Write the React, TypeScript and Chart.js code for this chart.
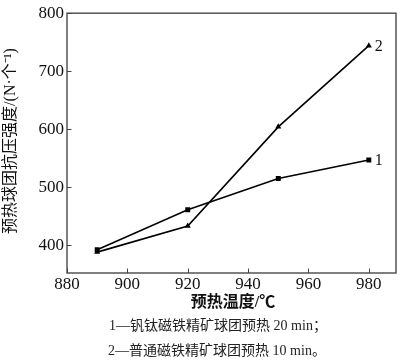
import React, { useEffect, useRef } from "react";
import { Chart, registerables } from "chart.js";

Chart.register(...registerables);

const temperatures = [890, 920, 950, 980];
const series1Values = [392, 461, 515, 547];
const series2Values = [388, 433, 604, 744];
const series1Label = "1";
const series2Label = "2";
const xTicks = [880, 900, 920, 940, 960, 980];
const yTicks = [400, 500, 600, 700, 800];
const xTitle = "预热温度/℃";
const yTitle = "预热球团抗压强度/(N·个⁻¹)";
const captions = [
  "1—钒钛磁铁精矿球团预热 20 min；",
  "2—普通磁铁精矿球团预热 10 min。",
];

const SERIF = "'Liberation Serif', 'Noto Sans CJK SC', serif";

const decorPlugin = {
  id: "decor",
  afterDraw(chart: any) {
    const ctx = chart.ctx;
    const { left, right, top, bottom } = chart.chartArea;
    const xs = chart.scales.x;
    const ys = chart.scales.y;
    ctx.save();
    ctx.strokeStyle = "#555";
    ctx.lineWidth = 1.5;
    ctx.strokeRect(left, top, right - left, bottom - top);
    ctx.lineWidth = 1;
    ctx.strokeStyle = "#444";
    ctx.beginPath();
    xTicks.forEach((v) => {
      const x = Math.round(xs.getPixelForValue(v)) + 0.5;
      ctx.moveTo(x, bottom);
      ctx.lineTo(x, bottom - 4.5);
    });
    yTicks.forEach((v) => {
      const y = Math.round(ys.getPixelForValue(v)) + 0.5;
      ctx.moveTo(left, y);
      ctx.lineTo(left + 4.5, y);
    });
    ctx.stroke();

    ctx.fillStyle = "#111";
    ctx.font = `16px ${SERIF}`;
    ctx.textAlign = "left";
    ctx.textBaseline = "middle";
    const endLabels = [
      { label: series1Label, idx: 0 },
      { label: series2Label, idx: 1 },
    ];
    endLabels.forEach(({ label, idx }) => {
      const meta = chart.getDatasetMeta(idx);
      const last = meta.data[meta.data.length - 1];
      ctx.fillText(label, last.x + 6, last.y + 1);
    });

    ctx.font = `600 16px ${SERIF}`;
    ctx.textAlign = "center";
    ctx.fillStyle = "#111";
    ctx.fillText(xTitle, 233, 303);

    ctx.font = `14px ${SERIF}`;
    ctx.fillStyle = "#222";
    ctx.fillText(captions[0], 218, 326);
    ctx.fillText(captions[1], 217, 351);

    ctx.translate(11, 141);
    ctx.rotate(-Math.PI / 2);
    ctx.font = `16px ${SERIF}`;
    ctx.fillStyle = "#111";
    ctx.fillText(yTitle, 0, 0);
    ctx.restore();
  },
};

export default function App() {
  const canvasRef = useRef<HTMLCanvasElement | null>(null);

  useEffect(() => {
    const canvas = canvasRef.current;
    if (!canvas) return;
    const chart = new Chart(canvas, {
      type: "line",
      data: {
        datasets: [
          {
            label: series1Label,
            data: temperatures.map((t, i) => ({ x: t, y: series1Values[i] })),
            borderColor: "#000",
            backgroundColor: "#000",
            borderWidth: 1.6,
            pointStyle: "rect",
            pointRadius: 3.5,
            pointBorderWidth: 0,
            tension: 0,
          },
          {
            label: series2Label,
            data: temperatures.map((t, i) => ({ x: t, y: series2Values[i] })),
            borderColor: "#000",
            backgroundColor: "#000",
            borderWidth: 1.6,
            pointStyle: "triangle",
            pointRadius: 3.5,
            pointBorderWidth: 0,
            tension: 0,
          },
        ],
      },
      options: {
        animation: false,
        responsive: false,
        maintainAspectRatio: false,
        layout: { padding: { left: 0, right: 4, top: 7, bottom: 0 } },
        plugins: {
          legend: { display: false },
          tooltip: { enabled: false },
        },
        scales: {
          x: {
            type: "linear",
            min: 880,
            max: 989,
            afterBuildTicks: (scale: any) => {
              scale.ticks = xTicks.map((v) => ({ value: v }));
            },
            afterFit: (scale: any) => {
              scale.height = 89;
            },
            grid: { display: false, drawTicks: false },
            border: { display: false },
            ticks: {
              padding: 1,
              color: "#111",
              font: { family: SERIF, size: 17 },
              maxRotation: 0,
              autoSkip: false,
            },
          },
          y: {
            type: "linear",
            min: 352,
            max: 800,
            afterBuildTicks: (scale: any) => {
              scale.ticks = yTicks.map((v) => ({ value: v }));
            },
            afterFit: (scale: any) => {
              scale.width = 67;
            },
            grid: { display: false, drawTicks: false },
            border: { display: false },
            ticks: {
              padding: 3,
              color: "#111",
              font: { family: SERIF, size: 17 },
              autoSkip: false,
            },
          },
        },
      },
      plugins: [decorPlugin],
    });
    return () => chart.destroy();
  }, []);

  return (
    <div style={{ position: "fixed", left: 0, top: 0, width: 400, height: 362, background: "#fff" }}>
      <canvas ref={canvasRef} width={400} height={362} style={{ width: 400, height: 362 }} />
    </div>
  );
}
